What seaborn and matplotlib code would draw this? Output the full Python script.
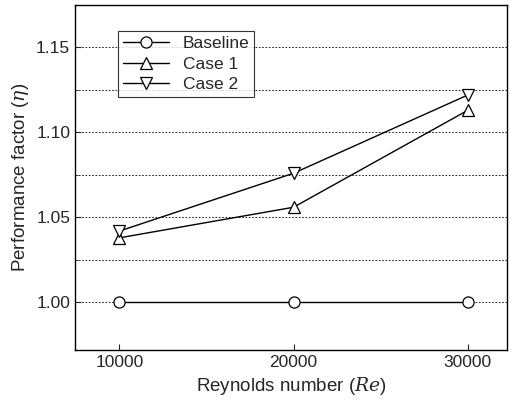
import matplotlib
matplotlib.use("Agg")
import matplotlib.pyplot as plt
import seaborn as sns
import pandas as pd

re_vals = [10000, 20000, 30000]
baseline = [1.000, 1.000, 1.000]
case1 = [1.038, 1.056, 1.113]
case2 = [1.042, 1.076, 1.122]

sns.set_style("ticks")
plt.rcParams['font.family'] = ['Liberation Sans', 'DejaVu Sans']
plt.rcParams['mathtext.fontset'] = 'dejavuserif'

df = pd.DataFrame({"Re": re_vals * 3,
                   "eta": baseline + case1 + case2,
                   "series": ["Baseline"] * 3 + ["Case 1"] * 3 + ["Case 2"] * 3})

fig = plt.figure(figsize=(5.14, 4.0), dpi=100)
ax = fig.add_axes([0.146, 0.125, 0.840, 0.8625])
sns.lineplot(data=df, x="Re", y="eta", hue="series", style="series",
             markers={"Baseline": "o", "Case 1": "^", "Case 2": "v"}, dashes=False,
             palette={"Baseline": "black", "Case 1": "black", "Case 2": "black"},
             markersize=8, markerfacecolor="white", markeredgecolor="black",
             markeredgewidth=0.9, linewidth=1.0, ax=ax)

ax.set_xlim(7450, 32250)
ax.set_ylim(0.972, 1.175)
ax.set_xticks(re_vals)
ax.set_yticks([1.00, 1.05, 1.10, 1.15])
ax.set_yticklabels(["1.00", "1.05", "1.10", "1.15"])
ax.set_yticks([1.025, 1.075, 1.125, 1.175], minor=True)
ax.grid(True, axis="y", which="both", linestyle=(0, (2, 2)), color="black", linewidth=0.6)
ax.tick_params(axis="both", which="both", direction="in", labelsize=12.5, length=4)
ax.tick_params(which="minor", length=2)
for s in ax.spines.values():
    s.set_linewidth(1.0)
    s.set_color("black")
ax.set_xlabel("Reynolds number ($Re$)", fontsize=13.5)
ax.set_ylabel("Performance factor ($\\eta$)", fontsize=13.5)
leg = ax.legend(loc="upper left", bbox_to_anchor=(0.08, 0.95), fontsize=12.5,
                frameon=True, fancybox=False, edgecolor="black", handlelength=2.6,
                borderpad=0.3, labelspacing=0.3)
leg.get_frame().set_linewidth(0.8)
fig.savefig("out.png", dpi=100)
